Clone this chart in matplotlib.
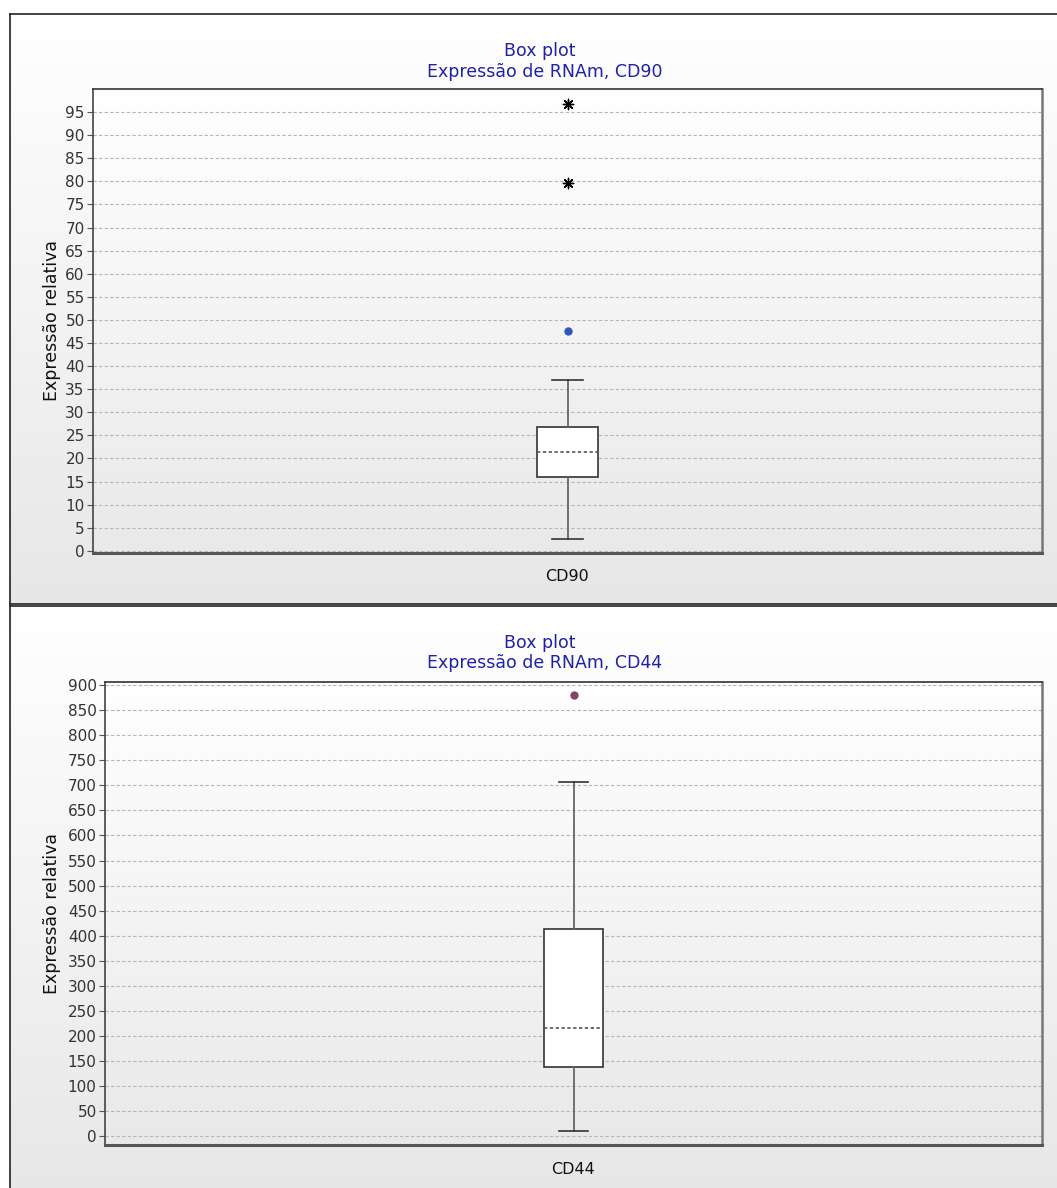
import numpy as np
import matplotlib
matplotlib.use("Agg")
import matplotlib.pyplot as plt

# ── data ──────────────────────────────────────────────────────────────────────
CD90_LABEL    = "CD90"
CD90_WHISLO   = 2.5
CD90_Q1       = 15.9
CD90_MED      = 21.4
CD90_Q3       = 26.9
CD90_WHISHI   = 36.9
CD90_OUTLIERS = [47.6]          # mild outliers (circle)
CD90_EXTREME  = [79.7, 96.8]    # extreme outliers (asterisk)
CD90_TICKS    = list(range(0, 100, 5))

CD44_LABEL    = "CD44"
CD44_WHISLO   = 10
CD44_Q1       = 138
CD44_MED      = 216
CD44_Q3       = 413
CD44_WHISHI   = 707
CD44_OUTLIERS = [880]
CD44_EXTREME  = []
CD44_TICKS    = list(range(0, 901, 50))

TITLE_COLOR = "#2020aa"

W, H = 1057, 1188
fig = plt.figure(figsize=(W / 100, H / 100), dpi=100)
fig.patch.set_facecolor("white")


def px_axes(left, top, right, bottom, **kw):
    return fig.add_axes([left / W, 1 - bottom / H, (right - left) / W, (bottom - top) / H], **kw)


def vgradient(ax, top="#ffffff", bottom="#e6e6e6"):
    c0 = np.array(matplotlib.colors.to_rgb(top))
    c1 = np.array(matplotlib.colors.to_rgb(bottom))
    t = np.linspace(0, 1, 256)[:, None]
    img = (c0 * (1 - t) + c1 * t)[:, None, :]
    ax.imshow(img, extent=(0, 1, 0, 1), transform=ax.transAxes,
              aspect="auto", zorder=0, interpolation="bilinear")


def panel(top, bottom, show_bottom=True):
    bg = px_axes(10, top, W + 5, bottom, zorder=0)
    vgradient(bg, "#ffffff", "#e7e7e7")
    bg.set_xlim(0, 1)
    bg.set_ylim(0, 1)
    bg.set_xticks([])
    bg.set_yticks([])
    for s in bg.spines.values():
        s.set_color("#222222")
        s.set_linewidth(1.2)
    bg.spines["right"].set_visible(False)
    bg.spines["bottom"].set_visible(show_bottom)
    return bg


def boxchart(rect, label, stats, extreme, ticks, ylim, flier_color):
    ax = px_axes(*rect, zorder=2)
    vgradient(ax, "#ffffff", "#e9e9e9")

    ax.bxp([stats], positions=[1], widths=0.064, patch_artist=True,
           boxprops=dict(facecolor="white", edgecolor="#333333", linewidth=1.2),
           medianprops=dict(color="#555555", linewidth=1.2, linestyle=(0, (2, 1.5))),
           whiskerprops=dict(color="#666666", linewidth=1.3),
           capprops=dict(color="#333333", linewidth=1.2),
           flierprops=dict(marker="o", markersize=5, markerfacecolor=flier_color,
                           markeredgecolor=flier_color),
           zorder=3)
    if extreme:
        ax.scatter([1] * len(extreme), extreme, marker=(8, 2, 0), s=55,
                   color="black", linewidths=1, zorder=4)

    ax.set_xlim(0.5, 1.5)
    ax.set_ylim(*ylim)
    ax.set_yticks(ticks)
    ax.set_xticks([1], [label])
    ax.tick_params(axis="x", length=0, pad=12, labelsize=11.5, labelcolor="#111111")
    ax.tick_params(axis="y", length=4, width=0.8, color="#555555", pad=2,
                   labelsize=11, labelcolor="#333333")
    ax.yaxis.grid(True, color="#b5b5b5", linewidth=0.8, linestyle=(0, (3, 2)))
    ax.set_axisbelow(True)
    for g in ax.get_ygridlines():
        g.set_zorder(1)

    for side, lw, col in [("top", 1.2, "#333333"), ("left", 1.2, "#444444"),
                          ("bottom", 2.2, "#555555"), ("right", 1.8, "#777777")]:
        ax.spines[side].set_linewidth(lw)
        ax.spines[side].set_color(col)

    ax.set_ylabel("Expressão relativa", fontsize=12.5, color="#111111")
    return ax


def titles(y1, y2, subject):
    fig.text(540 / W, 1 - y1 / H, "Box plot", ha="center", va="center",
             fontsize=12.5, color=TITLE_COLOR)
    fig.text(545 / W, 1 - y2 / H, f"Expressão de RNAm, {subject}", ha="center",
             va="center", fontsize=12.5, color=TITLE_COLOR)


# ── panel 1: CD90 ─────────────────────────────────────────────────────────────
panel(14, 604)
stats90 = dict(med=CD90_MED, q1=CD90_Q1, q3=CD90_Q3, whislo=CD90_WHISLO,
               whishi=CD90_WHISHI, fliers=CD90_OUTLIERS, label=CD90_LABEL)
ax1 = boxchart((93, 89, 1042, 552.7), CD90_LABEL, stats90, CD90_EXTREME,
               CD90_TICKS, (-0.4, 100), "#3355bb")
ax1.yaxis.set_label_coords(-32 / 949, 0.5)
titles(51, 72, CD90_LABEL)

# ── panel 2: CD44 ─────────────────────────────────────────────────────────────
panel(606, H + 10, show_bottom=False)
stats44 = dict(med=CD44_MED, q1=CD44_Q1, q3=CD44_Q3, whislo=CD44_WHISLO,
               whishi=CD44_WHISHI, fliers=CD44_OUTLIERS, label=CD44_LABEL)
ax2 = boxchart((105, 681.7, 1042, 1145), CD44_LABEL, stats44, CD44_EXTREME,
               CD44_TICKS, (-18, 907), "#884466")
ax2.yaxis.set_label_coords(-44 / 937, 0.5)
titles(643, 663, CD44_LABEL)

plt.savefig("out.png", dpi=100)
